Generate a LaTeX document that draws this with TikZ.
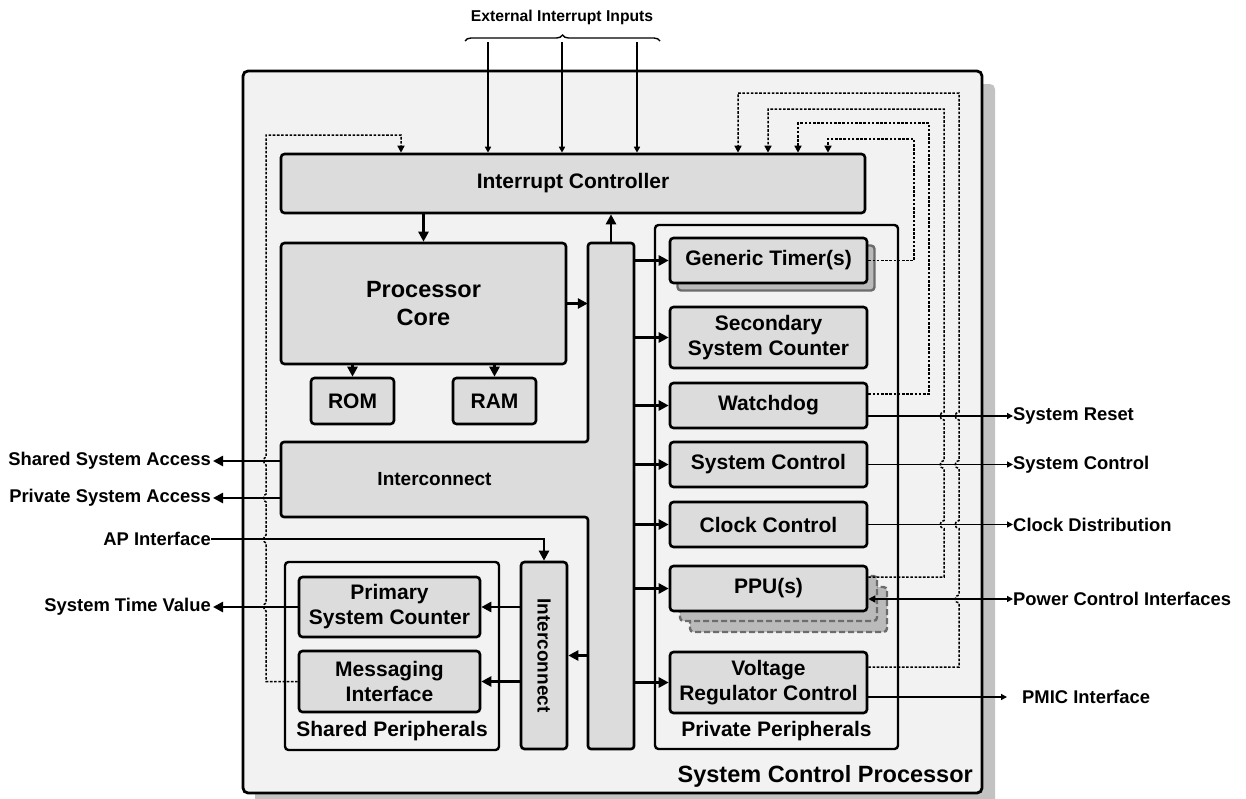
\documentclass[tikz,border=0pt]{standalone}
\usepackage{fontspec}
\setmainfont{Liberation Sans}
\usetikzlibrary{arrows.meta,decorations.pathreplacing,calc}

\definecolor{panelbg}{HTML}{F2F2F2}
\definecolor{boxfill}{HTML}{DCDCDC}
\definecolor{dropshade}{HTML}{C2C2C2}
\definecolor{stackfill}{HTML}{BABABA}
\definecolor{stackedge}{HTML}{6C6C6C}

\begin{document}
\begin{tikzpicture}[x=1pt,y=-1pt,
  blk/.style={draw, line width=2.6pt, rounded corners=3.5pt, fill=boxfill,
    align=center, inner sep=0pt, font=\bfseries\fontsize{21}{25}\selectfont},
  grp/.style={draw, line width=2.4pt, rounded corners=3.5pt, fill=panelbg, inner sep=0pt},
  lbl/.style={inner sep=0pt, font=\bfseries\fontsize{21}{25}\selectfont},
  sidelbl/.style={inner sep=0pt, font=\bfseries\fontsize{18.4}{22}\selectfont},
  anchorbox/.style={draw=none, fill=none, inner sep=0pt},
  busarr/.style={line width=2.6pt, -{Triangle[length=10pt,width=10pt]}},
  extarr/.style={line width=1.5pt, -{Triangle[length=6pt,width=6pt]}},
  dotline/.style={line width=1.5pt, dash pattern=on 2.6pt off 1.6pt},
  dotarr/.style={dotline, -{Triangle[length=7pt,width=7pt]}},
]
\useasboundingbox (0,0) rectangle (1246,798);

% ---------- outer processor panel with drop shadow ----------
\fill[dropshade, rounded corners=5pt] (255,84) rectangle (995,806);
\node[grp, line width=2.8pt, rounded corners=5pt, minimum width=739pt, minimum height=722pt]
  (scp) at (612.5,432) {};
\node[inner sep=0pt, anchor=east, font=\bfseries\fontsize{23.5}{27}\selectfont]
  (scptitle) at (973,776) {System Control Processor};

% ---------- external interrupt inputs ----------
\node[inner sep=0pt, font=\bfseries\fontsize{15.7}{19}\selectfont] (extin) at (562,17) {External Interrupt Inputs};
\draw[line width=1.4pt, decorate, decoration={brace, amplitude=6pt}] (465,41) -- (660,41);

% ---------- interrupt controller, core, memories ----------
\node[blk, minimum width=584pt, minimum height=59pt] (ic) at (573,183.5) {Interrupt Controller};
\node[blk, minimum width=285pt, minimum height=121pt, font=\bfseries\fontsize{23.5}{27.5}\selectfont]
  (core) at (423.5,303.5) {Processor\\Core};
\node[blk, minimum width=83pt, minimum height=46pt] (rom) at (352.5,401) {ROM};
\node[blk, minimum width=83pt, minimum height=46pt] (ram) at (494.5,401) {RAM};

% ---------- main interconnect (T-shaped fabric) ----------
\draw[line width=2.6pt, fill=boxfill, rounded corners=3pt]
  (588,243) -- (634,243) -- (634,749) -- (588,749) -- (588,517) -- (281,517)
  -- (281,442) -- (588,442) -- cycle;
\node[anchorbox, minimum width=46pt, minimum height=506pt] (busv) at (611,496) {};
\node[anchorbox, minimum width=307pt, minimum height=75pt, font=\bfseries\fontsize{19}{23}\selectfont]
  (xbar) at (434.5,479.5) {Interconnect};

% ---------- shared peripherals ----------
\node[grp, minimum width=214pt, minimum height=188pt] (shp) at (392,656) {};
\node[lbl] (shplbl) at (392,731) {Shared Peripherals};
\node[blk, minimum width=181pt, minimum height=60pt] (psc) at (389.5,607) {Primary\\System Counter};
\node[blk, minimum width=181pt, minimum height=61pt] (mi) at (389.5,681.5) {Messaging\\Interface};
\node[blk, minimum width=46pt, minimum height=187pt] (sic) at (544,655.5) {};
\node[inner sep=0pt, rotate=-90, font=\bfseries\fontsize{19}{23}\selectfont] (siclbl) at (544,655.5) {Interconnect};

% ---------- private peripherals ----------
\node[grp, minimum width=243pt, minimum height=524pt] (pp) at (776.5,487) {};
\node[lbl] (pplbl) at (776.5,731) {Private Peripherals};

% generic timer with a copy behind it
\fill[stackfill, draw=stackedge, line width=2.4pt, rounded corners=3.5pt] (677.5,245.5) rectangle (874.5,290.5);
\node[blk, minimum width=197pt, minimum height=45pt] (gt) at (768.5,260.5) {Generic Timer(s)};
\node[blk, minimum width=197pt, minimum height=61pt] (ssc) at (768.5,337.5) {Secondary\\System Counter};
\node[blk, minimum width=197pt, minimum height=45pt] (wd) at (768.5,405.5) {Watchdog};
\node[blk, minimum width=197pt, minimum height=45pt] (sc) at (768.5,464.5) {System Control};
\node[blk, minimum width=197pt, minimum height=45pt] (cc) at (768.5,524.5) {Clock Control};
% stacked PPU instances
\fill[stackfill, draw=stackedge, line width=2.4pt, dash pattern=on 6pt off 3pt, rounded corners=3.5pt]
  (690,587) rectangle (887,632);
\fill[stackfill, draw=stackedge, line width=2.4pt, dash pattern=on 6pt off 3pt, rounded corners=3.5pt]
  (680,576) rectangle (877,621);
\node[blk, minimum width=197pt, minimum height=45pt] (ppu) at (768.5,588.5) {PPU(s)};
\node[blk, minimum width=197pt, minimum height=61pt] (vrc) at (768.5,682.5) {Voltage\\Regulator Control};

% ---------- external signal labels ----------
\node[sidelbl, anchor=east] (ssa) at (211,461) {Shared System Access};
\node[sidelbl, anchor=east] (psa) at (211,498) {Private System Access};
\node[sidelbl, anchor=east] (api) at (211,539) {AP Interface};
\node[sidelbl, anchor=east] (stv) at (211,607) {System Time Value};
\node[sidelbl, anchor=west] (srst) at (1013,416) {System Reset};
\node[sidelbl, anchor=west] (sctl) at (1013,464.5) {System Control};
\node[sidelbl, anchor=west] (clkd) at (1013,524.5) {Clock Distribution};
\node[sidelbl, anchor=west] (pci) at (1013,599) {Power Control Interfaces};
\node[sidelbl, anchor=west] (pmic) at (1022,697) {PMIC Interface};

% ---------- dotted interrupt request routes ----------
% messaging interface -> interrupt controller (left side)
\coordinate (mir) at (401,135);
\draw[dotarr] (mi.west) -- (266,681.5)
  -- (266,611) .. controls (263,611) and (263,603) .. (266,603)
  -- (266,543) .. controls (263,543) and (263,535) .. (266,535)
  -- (266,502) .. controls (263,502) and (263,494) .. (266,494)
  -- (266,465) .. controls (263,465) and (263,457) .. (266,457)
  -- (266,135) -- (mir) -- (mir |- ic.north);
% generic timer
\coordinate (gtr) at (828,139);
\draw[dotarr] (gt.east) -- (914,260.5) -- (914,139) -- (gtr) -- (gtr |- ic.north);
% watchdog
\coordinate (wdr) at (798,123);
\draw[dotarr] ([yshift=11.5pt]wd.east) -- (929,394) -- (929,123) -- (wdr) -- (wdr |- ic.north);
% PPU
\coordinate (ppr) at (768,109);
\draw[dotarr] ([yshift=11.5pt]ppu.east) -- (944,577)
  -- (944,528.5) .. controls (939,528.5) and (939,520.5) .. (944,520.5)
  -- (944,468.5) .. controls (939,468.5) and (939,460.5) .. (944,460.5)
  -- (944,420) .. controls (939,420) and (939,412) .. (944,412)
  -- (944,109) -- (ppr) -- (ppr |- ic.north);
% voltage regulator control
\coordinate (vrr) at (738,93);
\draw[dotarr] ([yshift=15.5pt]vrc.east) -- (959,667)
  -- (959,603) .. controls (954,603) and (954,595) .. (959,595)
  -- (959,528.5) .. controls (954,528.5) and (954,520.5) .. (959,520.5)
  -- (959,468.5) .. controls (954,468.5) and (954,460.5) .. (959,460.5)
  -- (959,420) .. controls (954,420) and (954,412) .. (959,412)
  -- (959,93) -- (vrr) -- (vrr |- ic.north);

% ---------- external interrupt arrows ----------
\coordinate (ei1) at (488,42);
\coordinate (ei2) at (562,42);
\coordinate (ei3) at (637,42);
\draw[extarr] (ei1) -- (ei1 |- ic.north);
\draw[extarr] (ei2) -- (ei2 |- ic.north);
\draw[extarr] (ei3) -- (ei3 |- ic.north);

% ---------- internal bus connections ----------
\draw[busarr] (core.north |- ic.south) -- (core.north);
\draw[busarr] (rom.north |- core.south) -- (rom.north);
\draw[busarr] (ram.north |- core.south) -- (ram.north);
\draw[busarr] (core.east) -- (core.east -| busv.west);
\draw[busarr] (busv.north) -- (busv.north |- ic.south);
\draw[busarr] (busv.east |- gt) -- (gt.west);
\draw[busarr] (busv.east |- ssc) -- (ssc.west);
\draw[busarr] (busv.east |- wd) -- (wd.west);
\draw[busarr] (busv.east |- sc) -- (sc.west);
\draw[busarr] (busv.east |- cc) -- (cc.west);
\draw[busarr] (busv.east |- ppu) -- (ppu.west);
\draw[busarr] (busv.east |- vrc) -- (vrc.west);
\draw[busarr] (busv.west |- sic) -- (sic.east);
\draw[busarr] (sic.west |- psc) -- (psc.east);
\draw[busarr] (sic.west |- mi) -- (mi.east);

% ---------- system-level signals ----------
\draw[busarr] (xbar.west |- ssa) -- ([xshift=2pt]ssa.east);
\draw[busarr] (xbar.west |- psa) -- ([xshift=2pt]psa.east);
\draw[line width=2.4pt, -{Triangle[length=10pt,width=10pt]}] (api.east) -- (sic.north |- api.east) -- (sic.north);
\draw[busarr] (psc.west) -- ([xshift=2pt]stv.east);

\draw[extarr] ([yshift=-10.5pt]wd.east) -- (srst.west);
\draw[extarr] (sc.east) -- (sctl.west);
\draw[extarr] (cc.east) -- (clkd.west);
\draw[line width=1.5pt, {Triangle[length=7pt,width=7pt]}-{Triangle[length=6pt,width=6pt]}]
  ([yshift=-10.5pt]ppu.east) -- (pci.west);
\draw[extarr] ([yshift=-14.5pt]vrc.east) -- ([xshift=-15pt]pmic.west);
\end{tikzpicture}
\end{document}
